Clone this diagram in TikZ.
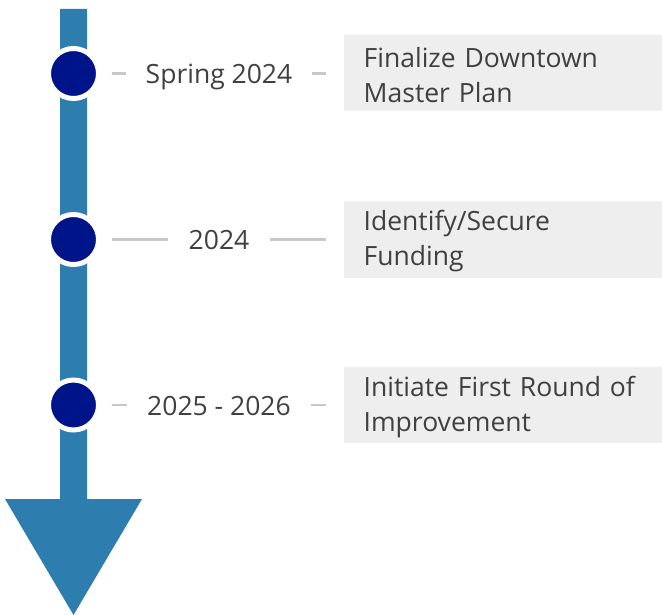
\documentclass[tikz,border=0pt]{standalone}
\usepackage{fontspec}
\setmainfont{Open Sans}
\definecolor{shaft}{RGB}{46,125,175}
\definecolor{navy}{RGB}{0,20,137}
\definecolor{linegray}{RGB}{200,200,200}
\definecolor{boxgray}{RGB}{238,238,238}
\definecolor{txt}{RGB}{64,64,64}
\begin{document}
\begin{tikzpicture}[x=1pt,y=-1pt,
  dot/.style={circle,draw=white,line width=5pt,fill=navy,minimum size=50pt,inner sep=0pt},
  datelbl/.style={inner sep=0pt,anchor=base,text=txt,font=\fontsize{26.5}{35}\selectfont},
  taskbox/.style={fill=boxgray,anchor=west,minimum height=76pt,minimum width=318pt,inner sep=0pt},
  tasktext/.style={anchor=west,text width=280pt,inner sep=0pt,align=left,text=txt,font=\fontsize{26.5}{35}\selectfont},
  tick/.style={draw=linegray,line width=2.5pt}]
\useasboundingbox (0,0) rectangle (662,615);
\fill[shaft] (60,9) -- (87,9) -- (87,499) -- (142,499) -- (73.5,615) -- (5,499) -- (60,499) -- cycle;
\foreach \i/\y/\d/\t in {1/73.5/{Spring 2024}/{Finalize Downtown\\Master Plan},
                          2/239.5/{2024}/{Identify/Secure\\Funding},
                          3/405/{2025 - 2026}/{Initiate First Round of\\Improvement}}{
  \node[dot] (c\i) at (73.5,\y) {};
  \node[datelbl] (d\i) at (219,\y+10.5) {\d};
  \node[taskbox] (b\i) at (344,\y) {};
  \node[tasktext] (t\i) at (363.5,\y+2) {\t};
  \coordinate (l\i) at (112,\y);
  \coordinate (r\i) at (326,\y);
  \draw[tick] (l\i) -- ([xshift=-20pt]l\i -| d\i.west);
  \draw[tick] ([xshift=20pt]r\i -| d\i.east) -- (r\i);
}
\end{tikzpicture}
\end{document}
